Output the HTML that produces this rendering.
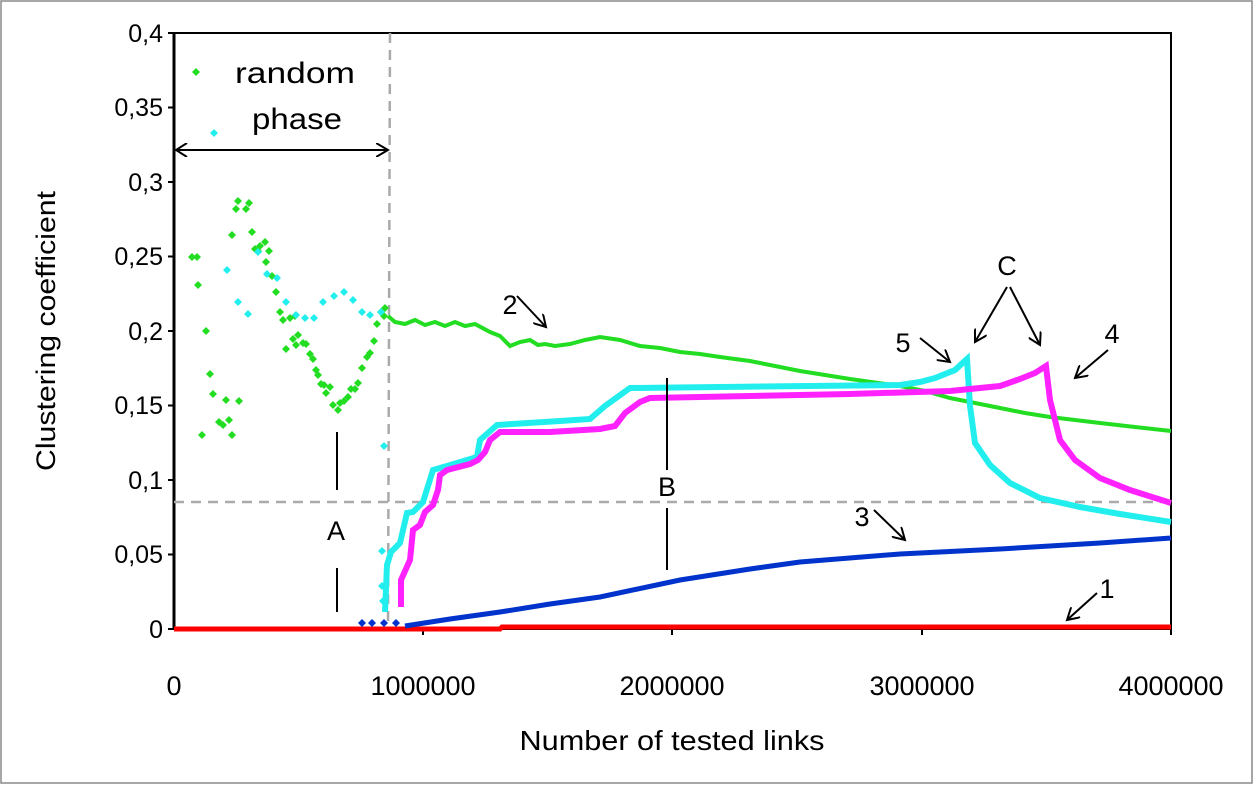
<!DOCTYPE html>
<html><head><meta charset="utf-8"><style>
body{margin:0;background:#fff}
svg{display:block;font-family:"Liberation Sans",sans-serif}
</style></head><body>
<svg width="1254" height="785" viewBox="0 0 1254 785" xmlns="http://www.w3.org/2000/svg">
<defs>
<marker id="ah" markerWidth="14" markerHeight="14" refX="12" refY="7" orient="auto" markerUnits="userSpaceOnUse"><path d="M0,0 L12,7 L0,14" fill="none" stroke="#000" stroke-width="2"/></marker>
<marker id="ahs" markerWidth="14" markerHeight="14" refX="1" refY="7" orient="auto" markerUnits="userSpaceOnUse"><path d="M12,0 L1,7 L12,14" fill="none" stroke="#000" stroke-width="2"/></marker>
<path id="d" d="M0,-4 L4,0 L0,4 L-4,0Z"/>
</defs>
<rect x="1" y="1" width="1251" height="782" fill="#fff" stroke="#888" stroke-width="1.5"/>
<rect x="174" y="33" width="997" height="596" fill="none" stroke="#000" stroke-width="2"/>
<g stroke="#000" stroke-width="2">
<line x1="174" y1="33" x2="174" y2="630" stroke-width="3"/>
<line x1="168" y1="33" x2="174" y2="33"/><line x1="168" y1="107.5" x2="174" y2="107.5"/><line x1="168" y1="182" x2="174" y2="182"/><line x1="168" y1="256.5" x2="174" y2="256.5"/><line x1="168" y1="331" x2="174" y2="331"/><line x1="168" y1="405.5" x2="174" y2="405.5"/><line x1="168" y1="480" x2="174" y2="480"/><line x1="168" y1="554.5" x2="174" y2="554.5"/><line x1="168" y1="629" x2="174" y2="629"/>
<line x1="423" y1="629" x2="423" y2="635"/><line x1="672" y1="629" x2="672" y2="635"/><line x1="922" y1="629" x2="922" y2="635"/><line x1="1171" y1="629" x2="1171" y2="635"/>
</g>
<g font-size="25" fill="#000" text-anchor="end">
<text x="163" y="42">0,4</text><text x="163" y="116">0,35</text><text x="163" y="191">0,3</text><text x="163" y="265">0,25</text><text x="163" y="340">0,2</text><text x="163" y="414">0,15</text><text x="163" y="489">0,1</text><text x="163" y="563">0,05</text><text x="163" y="638">0</text>
</g>
<g font-size="27" text-anchor="middle">
<text x="174" y="695">0</text><text x="423" y="695">1000000</text><text x="672" y="695">2000000</text><text x="922" y="695">3000000</text><text x="1171" y="695">4000000</text>
</g>
<text x="672" y="750" font-size="28" text-anchor="middle" textLength="305" lengthAdjust="spacingAndGlyphs">Number of tested links</text>
<text transform="translate(55,331) rotate(-90)" font-size="27" text-anchor="middle" textLength="280" lengthAdjust="spacingAndGlyphs">Clustering coefficient</text>
<g stroke="#aaa" stroke-width="2.5" stroke-dasharray="10,7" fill="none">
<line x1="174" y1="502" x2="1171" y2="502"/>
<line x1="390" y1="33" x2="388" y2="629"/>
</g>
<!-- red -->
<polyline points="174,629 500,629 502,627 1171,627" fill="none" stroke="#f00" stroke-width="5"/>
<!-- blue -->
<g fill="#0033cc"><use href="#d" x="362" y="623"/><use href="#d" x="372" y="623"/><use href="#d" x="384" y="623"/><use href="#d" x="396" y="623"/></g>
<polyline points="405,626 450,619 500,612 550,604 600,597 680,580 750,569 800,562 900,554 1000,549 1100,543 1171,538" fill="none" stroke="#0033cc" stroke-width="5"/>
<!-- green line -->
<polyline points="388,316 395,322 405,324 415,320 425,325 435,322 445,326 455,322 465,326 475,324 490,332 500,336 510,346 520,342 530,340 538,345 545,344 555,346 570,344 585,340 600,337 620,340 640,346 660,348 680,352 700,354 720,357 750,361 775,366 800,371 850,379 900,386 925,391 950,398 975,403 1000,408 1025,413 1050,417 1075,420 1100,423 1135,427 1171,431" fill="none" stroke="#22dd22" stroke-width="4"/>
<!-- cyan line -->
<polyline points="385,612 387,565 391,552 400,543 407,513 413,512 423,502 433,470 457,463 467,460 477,457 480,440 497,425 560,421 590,419 605,406 630,388 900,385 920,382 935,378 955,370 967,359 970,406 975,443 990,465 1010,483 1040,498 1080,507 1120,514 1171,522" fill="none" stroke="#22eeee" stroke-width="6"/>
<!-- magenta line -->
<polyline points="401,607 401,580 410,560 413,530 420,525 425,512 433,505 438,490 440,475 447,470 470,464 478,460 485,452 490,440 500,432 550,432 600,429 615,426 625,413 640,402 650,398 850,394 950,391 1000,386 1020,379 1035,373 1046,366 1050,400 1060,440 1075,460 1100,478 1130,490 1171,503" fill="none" stroke="#ff22ff" stroke-width="6"/>
<!-- green scatter -->
<g fill="#22dd22">
<use href="#d" x="192" y="257"/><use href="#d" x="197" y="257"/><use href="#d" x="198" y="285"/><use href="#d" x="206" y="331"/><use href="#d" x="210" y="374"/><use href="#d" x="213" y="394"/><use href="#d" x="202" y="435"/><use href="#d" x="219" y="422"/><use href="#d" x="223" y="425"/><use href="#d" x="226" y="400"/><use href="#d" x="229" y="420"/><use href="#d" x="239" y="401"/><use href="#d" x="232" y="435"/><use href="#d" x="236" y="209"/><use href="#d" x="238" y="201"/><use href="#d" x="246" y="209"/><use href="#d" x="249" y="203"/><use href="#d" x="232" y="235"/><use href="#d" x="252" y="232"/><use href="#d" x="255" y="249"/><use href="#d" x="258" y="251"/><use href="#d" x="260" y="246"/><use href="#d" x="265" y="242"/><use href="#d" x="269" y="251"/><use href="#d" x="266" y="262"/><use href="#d" x="272" y="276"/><use href="#d" x="276" y="292"/><use href="#d" x="280" y="312"/><use href="#d" x="283" y="320"/><use href="#d" x="290" y="318"/><use href="#d" x="293" y="339"/><use href="#d" x="286" y="349"/><use href="#d" x="296" y="345"/><use href="#d" x="298" y="335"/><use href="#d" x="295" y="316"/><use href="#d" x="303" y="343"/><use href="#d" x="306" y="344"/><use href="#d" x="310" y="354"/><use href="#d" x="313" y="359"/><use href="#d" x="316" y="370"/><use href="#d" x="318" y="375"/><use href="#d" x="321" y="384"/><use href="#d" x="324" y="385"/><use href="#d" x="326" y="393"/><use href="#d" x="330" y="387"/><use href="#d" x="333" y="405"/><use href="#d" x="338" y="410"/><use href="#d" x="340" y="403"/><use href="#d" x="344" y="401"/><use href="#d" x="348" y="397"/><use href="#d" x="351" y="389"/><use href="#d" x="355" y="389"/><use href="#d" x="358" y="383"/><use href="#d" x="362" y="368"/><use href="#d" x="367" y="357"/><use href="#d" x="370" y="353"/><use href="#d" x="374" y="341"/><use href="#d" x="377" y="324"/><use href="#d" x="381" y="312"/><use href="#d" x="385" y="308"/><use href="#d" x="384" y="316"/>
</g>
<!-- cyan scatter -->
<g fill="#22eeee">
<use href="#d" x="227" y="270"/><use href="#d" x="238" y="302"/><use href="#d" x="248" y="314"/><use href="#d" x="258" y="252"/><use href="#d" x="267" y="274"/><use href="#d" x="277" y="278"/><use href="#d" x="286" y="302"/><use href="#d" x="296" y="315"/><use href="#d" x="305" y="318"/><use href="#d" x="314" y="318"/><use href="#d" x="323" y="302"/><use href="#d" x="334" y="296"/><use href="#d" x="344" y="292"/><use href="#d" x="353" y="300"/><use href="#d" x="362" y="312"/><use href="#d" x="370" y="315"/><use href="#d" x="381" y="312"/><use href="#d" x="384" y="446"/><use href="#d" x="382" y="551"/><use href="#d" x="382" y="586"/><use href="#d" x="383" y="601"/>
</g>
<!-- legend-like text -->
<use href="#d" x="196" y="72" fill="#22dd22"/><use href="#d" x="214" y="133" fill="#22eeee"/>
<g font-size="30" text-anchor="middle">
<text x="295" y="83" textLength="120" lengthAdjust="spacingAndGlyphs">random</text><text x="297" y="129" textLength="90" lengthAdjust="spacingAndGlyphs">phase</text>
</g>
<line x1="176" y1="150" x2="388" y2="150" stroke="#000" stroke-width="2" marker-start="url(#ahs)" marker-end="url(#ah)"/>
<!-- annotations -->
<g stroke="#000" stroke-width="2" fill="none">
<line x1="337" y1="432" x2="337" y2="490"/><line x1="337" y1="568" x2="337" y2="612"/>
<line x1="667" y1="378" x2="667" y2="470"/><line x1="667" y1="508" x2="667" y2="570"/>
<line x1="517" y1="296" x2="546" y2="327" marker-end="url(#ah)"/>
<line x1="874" y1="510" x2="905" y2="540" marker-end="url(#ah)"/>
<line x1="1097" y1="593" x2="1067" y2="620" marker-end="url(#ah)"/>
<line x1="920" y1="338" x2="950" y2="362" marker-end="url(#ah)"/>
<line x1="1007" y1="287" x2="975" y2="342" marker-end="url(#ah)"/>
<line x1="1010" y1="287" x2="1040" y2="345" marker-end="url(#ah)"/>
<line x1="1108" y1="350" x2="1075" y2="378" marker-end="url(#ah)"/>
</g>
<g font-size="27" text-anchor="middle">
<text x="336" y="540">A</text><text x="667" y="496">B</text><text x="510" y="314">2</text><text x="862" y="526">3</text><text x="1107" y="598">1</text><text x="903" y="352">5</text><text x="1007" y="275">C</text><text x="1112" y="343">4</text>
</g>
</svg>
</body></html>
